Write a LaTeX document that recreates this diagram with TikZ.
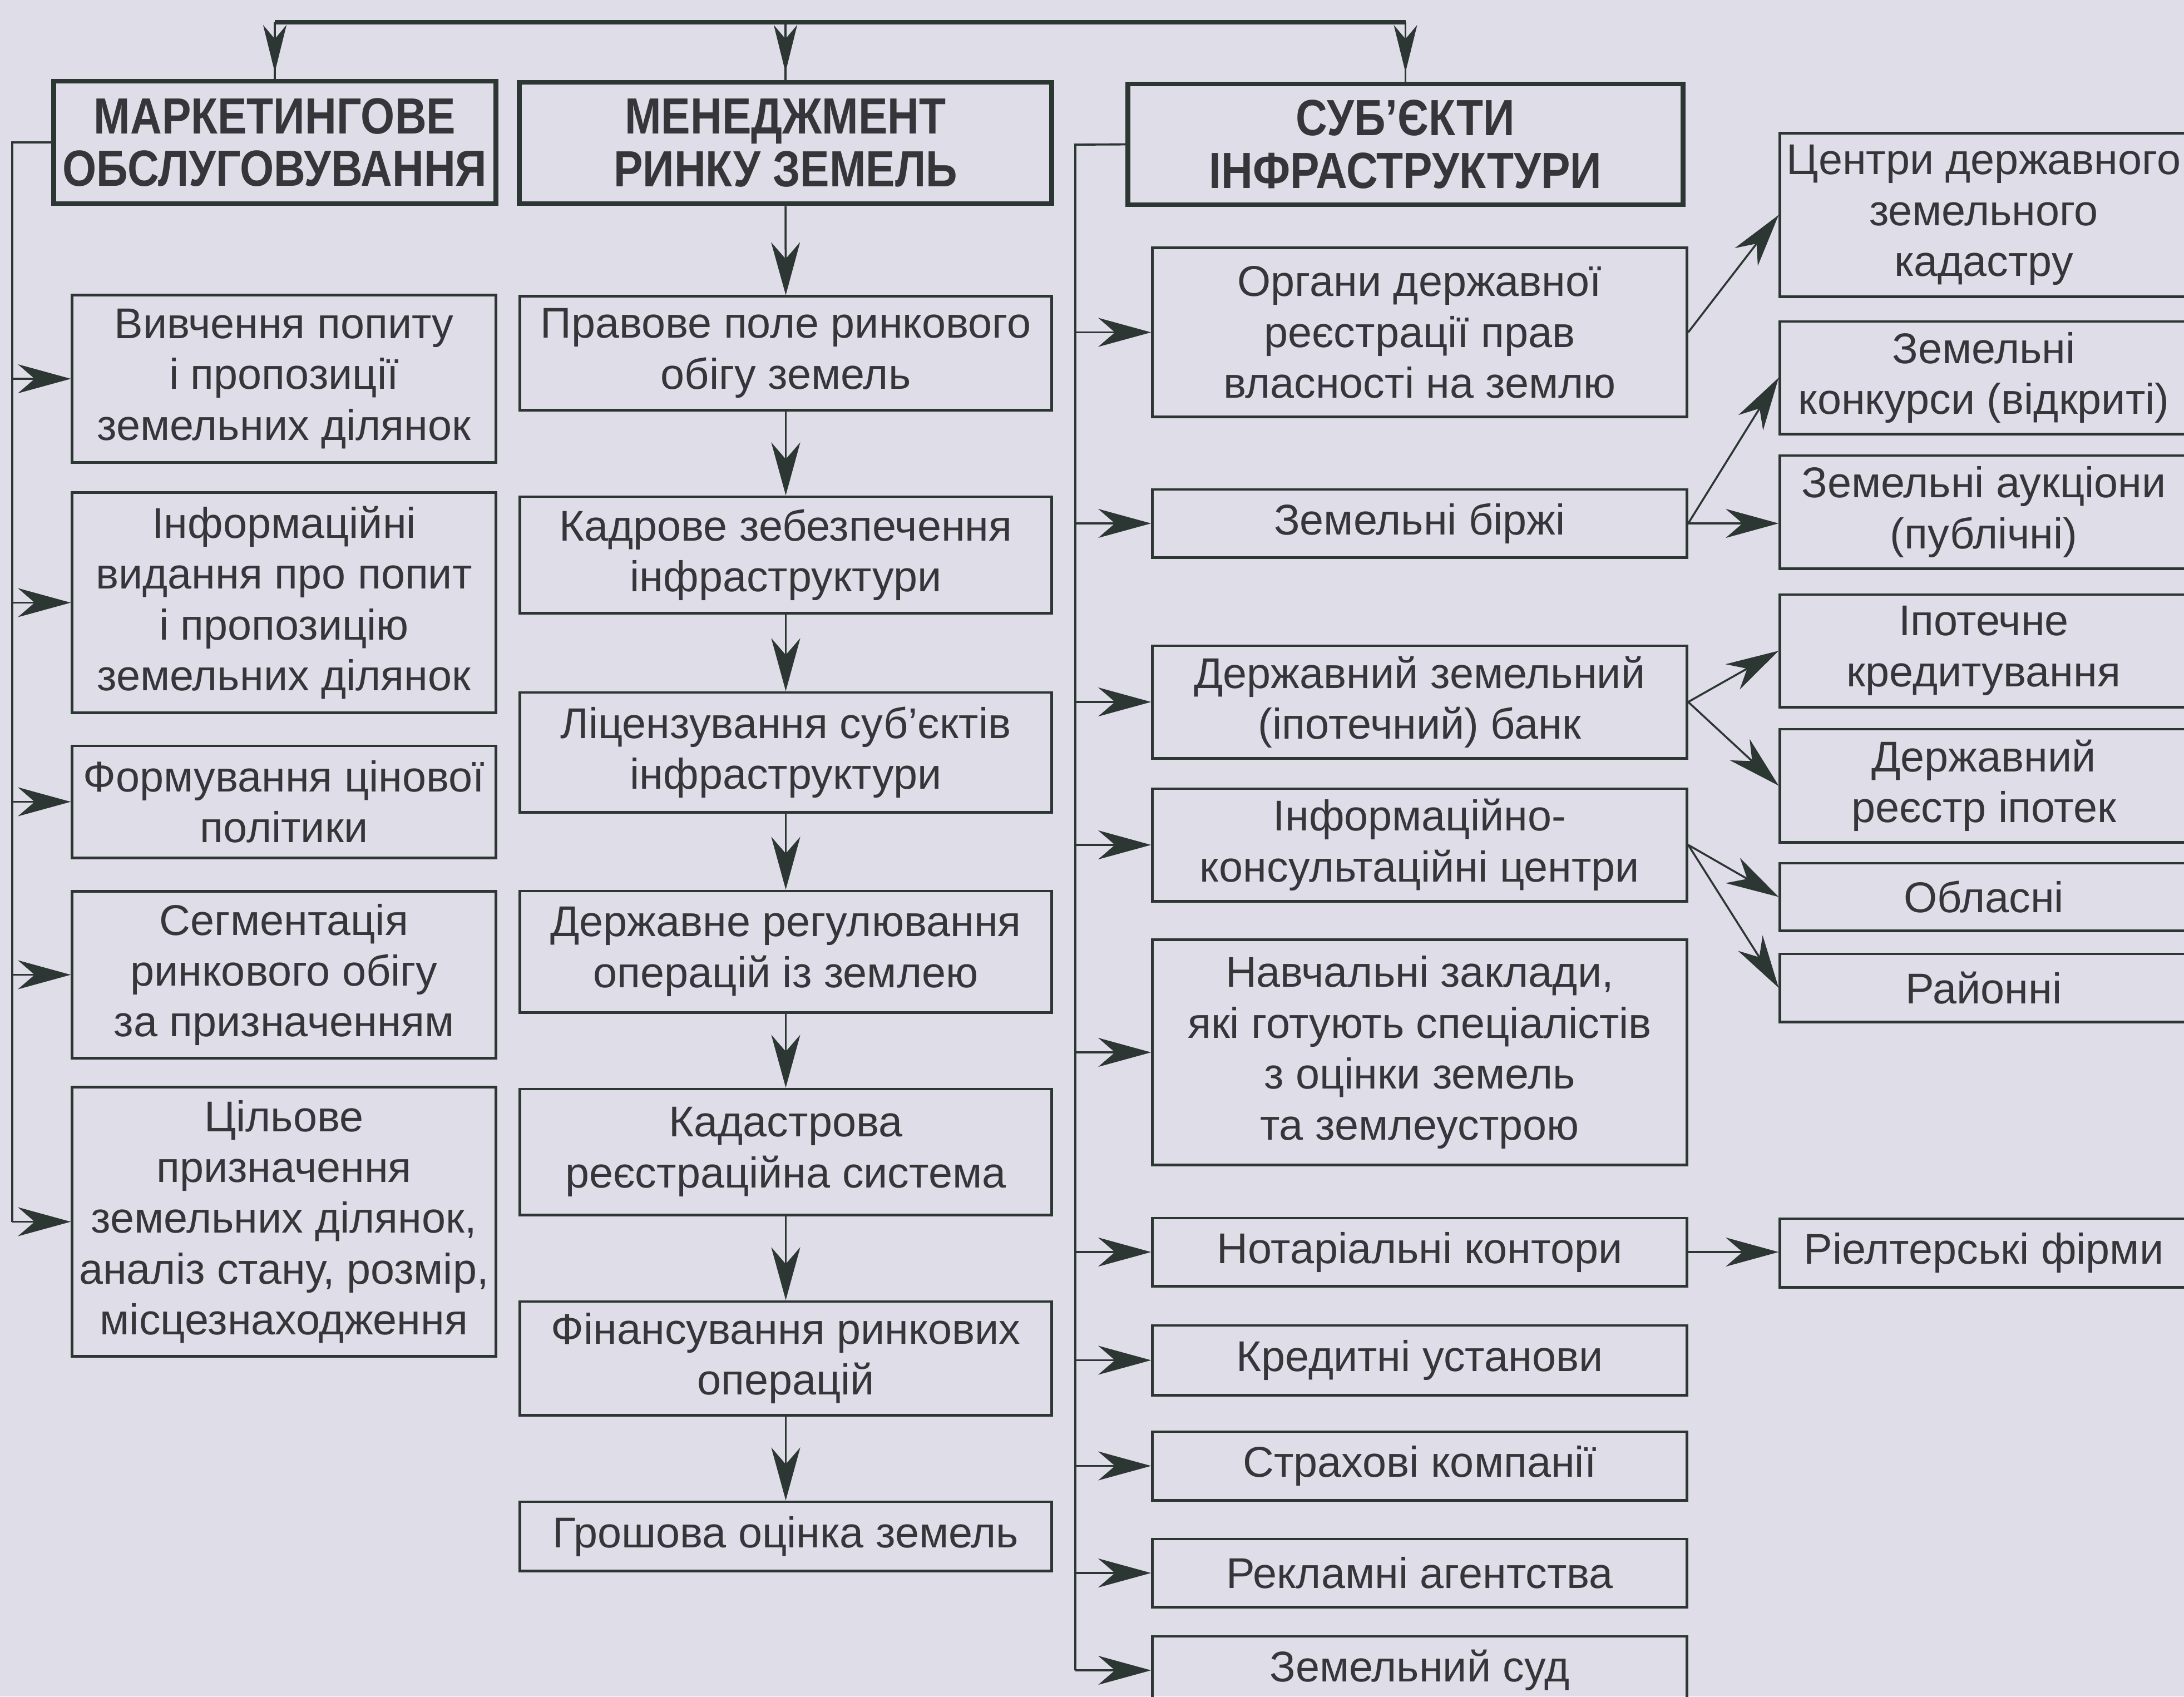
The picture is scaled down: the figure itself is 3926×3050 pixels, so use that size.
\documentclass[tikz,border=0pt]{standalone}
\usepackage{fontspec}
\setmainfont{Liberation Sans}
\newfontfamily\headfont{Liberation Sans}[FakeStretch=0.86]
\usetikzlibrary{arrows.meta}
\definecolor{paper}{RGB}{223,221,231}
\definecolor{ink}{RGB}{44,55,52}
\definecolor{textgray}{RGB}{54,54,58}
\tikzstyle{plainbox}=[draw=ink,line width=1.4pt,text=textgray,align=center,inner sep=0pt,font={\fontsize{22}{26}\selectfont}]
\tikzstyle{headbox}=[plainbox,line width=2.5pt,font={\headfont\bfseries\fontsize{26}{27}\selectfont}]
\tikzstyle{link}=[draw=ink,line width=1pt,-{Stealth[length=0.95cm,width=0.52cm,inset=0.3cm]}]
\tikzstyle{toplink}=[draw=ink,line width=1pt,-{Stealth[length=0.85cm,width=0.42cm,inset=0.25cm]}]
\tikzstyle{bus}=[draw=ink,line width=1.1pt]
\newcommand{\placebox}[7][plainbox]{% Syntax: [style] {name} {left}{top}{right}{bottom} {text}, in scan pixels
\pgfmathsetmacro{\cx}{(#3+#5)/2}
\pgfmathsetmacro{\cy}{(#4+#6)/2}
\pgfmathsetmacro{\bw}{(#5-#3)/100} % cm
\pgfmathsetmacro{\bh}{(#6-#4)/100}
\node[#1,minimum width=\bw cm,minimum height=\bh cm] (#2) at (\cx,\cy) {#7};
}

\begin{document}
\begin{tikzpicture}[x=0.01cm,y=-0.01cm]
	\fill[paper] (0,0) rectangle (3926,3050);
	\useasboundingbox (0,0) rectangle (3926,3050);
	\clip (0,0) rectangle (3926,3050);
	% headers
	\placebox[headbox]{mark}{97}{146}{891}{366}{МАРКЕТИНГОВЕ\\ОБСЛУГОВУВАННЯ}
	\placebox[headbox]{mgmt}{934}{148}{1890}{366}{МЕНЕДЖМЕНТ\\РИНКУ ЗЕМЕЛЬ}
	\placebox[headbox]{subj}{2028}{151}{3025}{368}{СУБ’ЄКТИ\\ІНФРАСТРУКТУРИ}
	% marketing column
	\placebox{study}{130}{531}{891}{831}{Вивчення попиту\\і пропозиції\\земельних ділянок}
	\placebox{infoed}{130}{886}{891}{1281}{Інформаційні\\видання про попит\\і пропозицію\\земельних ділянок}
	\placebox{price}{130}{1341}{891}{1542}{Формування цінової\\політики}
	\placebox{segm}{130}{1603}{891}{1902}{Сегментація\\ринкового обігу\\за призначенням}
	\placebox{purpose}{130}{1955}{891}{2438}{Цільове\\призначення\\земельних ділянок,\\аналіз стану, розмір,\\місцезнаходження}
	% management column
	\placebox{legal}{935}{533}{1890}{737}{Правове поле ринкового\\обігу земель}
	\placebox{staff}{935}{893}{1890}{1102}{Кадрове зебезпечення\\інфраструктури}
	\placebox{licence}{935}{1245}{1890}{1460}{Ліцензування суб’єктів\\інфраструктури}
	\placebox{regul}{935}{1602}{1890}{1820}{Державне регулювання\\операцій із землею}
	\placebox{cadreg}{935}{1958}{1890}{2184}{Кадастрова\\реєстраційна система}
	\placebox{finance}{935}{2340}{1890}{2544}{Фінансування ринкових\\операцій}
	\placebox{valuation}{935}{2700}{1890}{2824}{Грошова оцінка земель}
	% subjects column
	\placebox{organs}{2072}{446}{3032}{749}{Органи державної\\реєстрації прав\\власності на землю}
	\placebox{exchange}{2072}{880}{3032}{1002}{Земельні біржі}
	\placebox{bank}{2072}{1161}{3032}{1363}{Державний земельний\\(іпотечний) банк}
	\placebox{consult}{2072}{1418}{3032}{1620}{Інформаційно-\\консультаційні центри}
	\placebox{schools}{2072}{1690}{3032}{2094}{Навчальні заклади,\\які готують спеціалістів\\з оцінки земель\\та землеустрою}
	\placebox{notary}{2072}{2190}{3032}{2312}{Нотаріальні контори}
	\placebox{credit}{2072}{2383}{3032}{2508}{Кредитні установи}
	\placebox{insur}{2072}{2574}{3032}{2697}{Страхові компанії}
	\placebox{advert}{2072}{2767}{3032}{2889}{Рекламні агентства}
	\placebox{court}{2072}{2942}{3032}{3064}{Земельний суд}
	% outer column, cut at the page edge
	\placebox{cadcentres}{3200}{240}{3932}{533}{Центри державного\\земельного\\кадастру}
	\placebox{contests}{3200}{578}{3932}{780}{Земельні\\конкурси (відкриті)}
	\placebox{auctions}{3200}{819}{3932}{1022}{Земельні аукціони\\(публічні)}
	\placebox{mortgage}{3200}{1069}{3932}{1271}{Іпотечне\\кредитування}
	\placebox{mortreg}{3200}{1311}{3932}{1514}{Державний\\реєстр іпотек}
	\placebox{oblast}{3200}{1552}{3932}{1673}{Обласні}
	\placebox{rayon}{3200}{1715}{3932}{1837}{Районні}
	\placebox{realtors}{3200}{2191}{3932}{2314}{Ріелтерські фірми}

	% top distribution line
	\coordinate (top) at (488,40);
	\draw[ink,line width=2.2pt] (mark.north |- top) -- (subj.north |- top);
	\foreach \h in {mark,mgmt,subj}{
		\draw[bus] (\h.north |- top) -- (\h.north);
		\draw[toplink] (\h.north |- top) -- ++(0,90);
	}
	% left bus
	\coordinate (lbus) at (22,256);
	\draw[bus] (mark.west) -- (lbus) -- (lbus |- purpose.west);
	\foreach \b in {study,infoed,price,segm,purpose}
		\draw[link] (lbus |- \b.west) -- (\b.west);
	% management chain
	\foreach \a/\b in {mgmt/legal,legal/staff,staff/licence,licence/regul,regul/cadreg,cadreg/finance,finance/valuation}
		\draw[link] (\a.south) -- (\b.north);
	% right bus
	\coordinate (rbus) at (1933,260);
	\draw[bus] (subj.west) -- (rbus) -- (rbus |- court.west);
	\foreach \b in {organs,exchange,bank,consult,schools,notary,credit,insur,advert,court}
		\draw[link] (rbus |- \b.west) -- (\b.west);
	% subjects to outer column
	\draw[link] (organs.east) -- (cadcentres.west);
	\draw[link] (exchange.east) -- (contests.west);
	\draw[link] (exchange.east) -- (exchange.east -| auctions.west);
	\draw[link] (bank.east) -- (mortgage.west);
	\draw[link] (bank.east) -- (mortreg.west);
	\draw[link] (consult.east) -- (oblast.west);
	\draw[link] (consult.east) -- (rayon.west);
	\draw[link] (notary.east) -- (notary.east -| realtors.west);
\end{tikzpicture}
\end{document}
